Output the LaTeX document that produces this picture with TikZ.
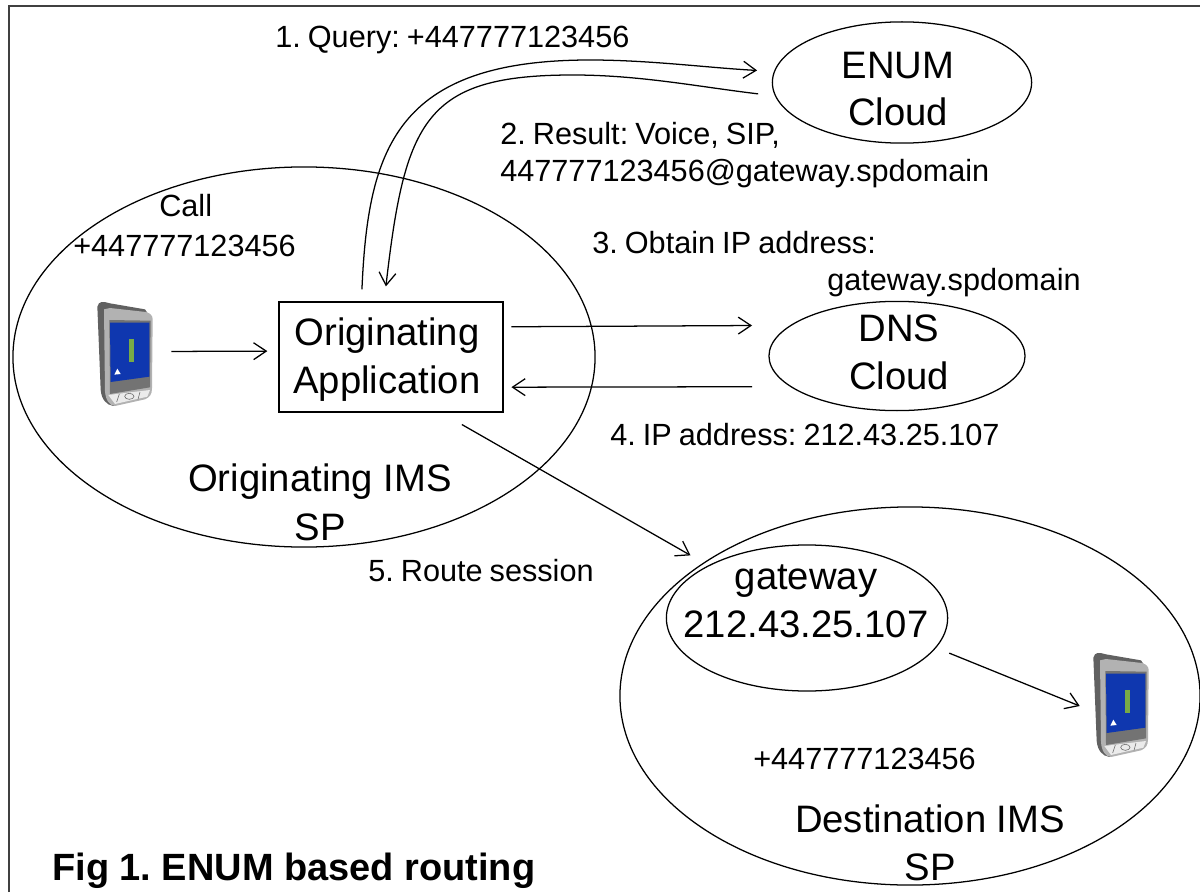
\documentclass[tikz,border=0pt]{standalone}
\usepackage{fontspec}
\setmainfont{Liberation Sans}
\usetikzlibrary{shapes.geometric}
\usepgflibrary{arrows.meta}

% one pocket device, given its centre in picture units
\newcommand{\handset}[2]{
    \begin{scope}[shift={(#1,#2)},scale=0.3333,shift={(-192,-225)},line width=0pt]
        \fill[black!62] (112,80) .. controls (116,62) and (130,64) .. (150,70) -- (255,88) -- (270,110) -- (270,340) -- (160,378) .. controls (140,375) and (125,360) .. (122,330) -- cycle;
        \fill[black!30] (132,88) -- (150,84) -- (258,96) .. controls (272,100) and (278,108) .. (278,118) -- (276,325) .. controls (276,345) and (268,352) .. (255,358) -- (165,378) .. controls (148,376) and (138,362) .. (135,335) -- cycle;
        \fill[black!55] (148,120) -- (272,122) -- (270,322) -- (150,342) -- cycle;
        \fill[screenblue] (150,128) -- (268,128) -- (268,290) -- (152,306) -- cycle;
        \fill[screengreen] (208,178) rectangle (221,245);
        \fill[white] (163,284) -- (182,282) -- (172,266) -- cycle;
        \fill[black!8] (145,345) -- (270,330) -- (262,350) -- (165,372) -- cycle;
        \draw[black!60,line width=.4pt] (208,349) ellipse (14 and 9);
        \draw[black!60,line width=.4pt] (178,342) -- (170,366) (240,336) -- (234,358);
    \end{scope}
}

\begin{document}
\begin{tikzpicture}[x=0.025cm,y=-0.025cm,
    flow/.style={->,>={Straight Barb[length=9pt,width=12pt]},line width=.9pt},
    cloud/.style={draw,ellipse,line width=.9pt,inner sep=0pt},
    big/.style={anchor=base,inner sep=0pt,align=center,font={\fontsize{27.2}{33.5}\selectfont}},
    small/.style={anchor=base west,inner sep=0pt,font={\fontsize{21.8}{26}\selectfont\frenchspacing\spaceskip=.23em\relax}},
    device/.style={inner sep=0pt,minimum width=2cm,minimum height=2.75cm}]
    \definecolor{screenblue}{RGB}{15,55,175}
    \definecolor{screengreen}{RGB}{120,170,70}
    \useasboundingbox (0,0) rectangle (1200,892);
    %frame, open on two sides
    \draw[black!75,line width=1.3pt] (9,892) -- (9,6) -- (1200,6);

    \node[cloud,minimum width=14.55cm,minimum height=9.5cm] (origsp) at (304,357) {};
    \node[cloud,minimum width=14.5cm,minimum height=9.45cm] (destsp) at (910,696) {};
    \node[cloud,minimum width=6.48cm,minimum height=3.03cm] (enum) at (902,82.5) {};
    \node[cloud,minimum width=6.4cm,minimum height=2.73cm] (dns) at (897,356) {};
    \node[cloud,minimum width=7.03cm,minimum height=3.65cm] (gateway) at (807,618) {};
    \node[draw,line width=.9pt,inner sep=0pt,minimum width=5.6cm,minimum height=2.75cm] (origapp) at (391,357) {};

    \node[big] (enumtxt) at (898,126) {ENUM\\Cloud};
    \node[big] (dnstxt) at (899,389) {DNS\\Cloud};
    \node[big] (gatewaytxt) at (806,637) {gateway\\212.43.25.107};
    \node[big] (apptxt) at (387,393) {Originating\\Application};

    \handset{124}{355}
    \handset{1120}{706}
    \node[device] (phonea) at (124,355) {};
    \node[device] (phoneb) at (1120,706) {};

    \draw[flow,shorten <=5pt,shorten >=7.8pt] (phonea.5) -- (origapp.177);
    \draw[flow,shorten <=8.5pt,shorten >=12pt] (origapp.118) .. controls (368,150) and (395,60) .. (590,60) .. controls (650,60) and (710,68) .. (enum.175);
    \draw[flow,shorten <=12pt,shorten >=10.7pt] (enum.186) .. controls (700,87) and (640,75) .. (573,75) .. controls (425,75) and (405,120) .. (origapp.97);
    \draw[flow,shorten <=5.5pt,shorten >=27pt] (origapp.15) -- (dns.164);
    \draw[flow,shorten <=27pt,shorten >=5.5pt] (dns.196) -- (origapp.-15);
    \draw[flow,shorten <=17pt,shorten >=14.4pt] (origapp.-48) -- (gateway.152);
    \draw[flow,shorten <=10pt] (gateway.-13) -- (phoneb.west);

    \node[small] (querytxt) at (275,48) {1. Query: +447777123456};
    \node[small] (resulttxt) at (500,145) {2. Result: Voice, SIP,};
    \node[small] (resulturi) at (500,182) {447777123456@gateway.spdomain};
    \node[small] (obtaintxt) at (592,253) {3. Obtain IP address:};
    \node[small] (obtainuri) at (827,290) {gateway.spdomain};
    \node[small] (iptxt) at (610,445) {4. IP address: 212.43.25.107};
    \node[small] (calltxt) at (159,217) {Call};
    \node[small] (callnum) at (73,257) {+447777123456};
    \node[small] (routetxt) at (368,581) {5. Route session};
    \node[small] (destnum) at (753,769) {+447777123456};
    \node[big] (origname) at (320,491) {Originating IMS};
    \node[big] (origsub) at (320,540) {SP};
    \node[big] (destname) at (930,832) {Destination IMS};
    \node[big] (destsub) at (930,880) {SP};
    \node[anchor=base west,inner sep=0pt,font={\fontsize{27}{32}\selectfont\bfseries\frenchspacing}] (figtitle) at (52,880) {Fig 1. ENUM based routing};
\end{tikzpicture}
\end{document}
